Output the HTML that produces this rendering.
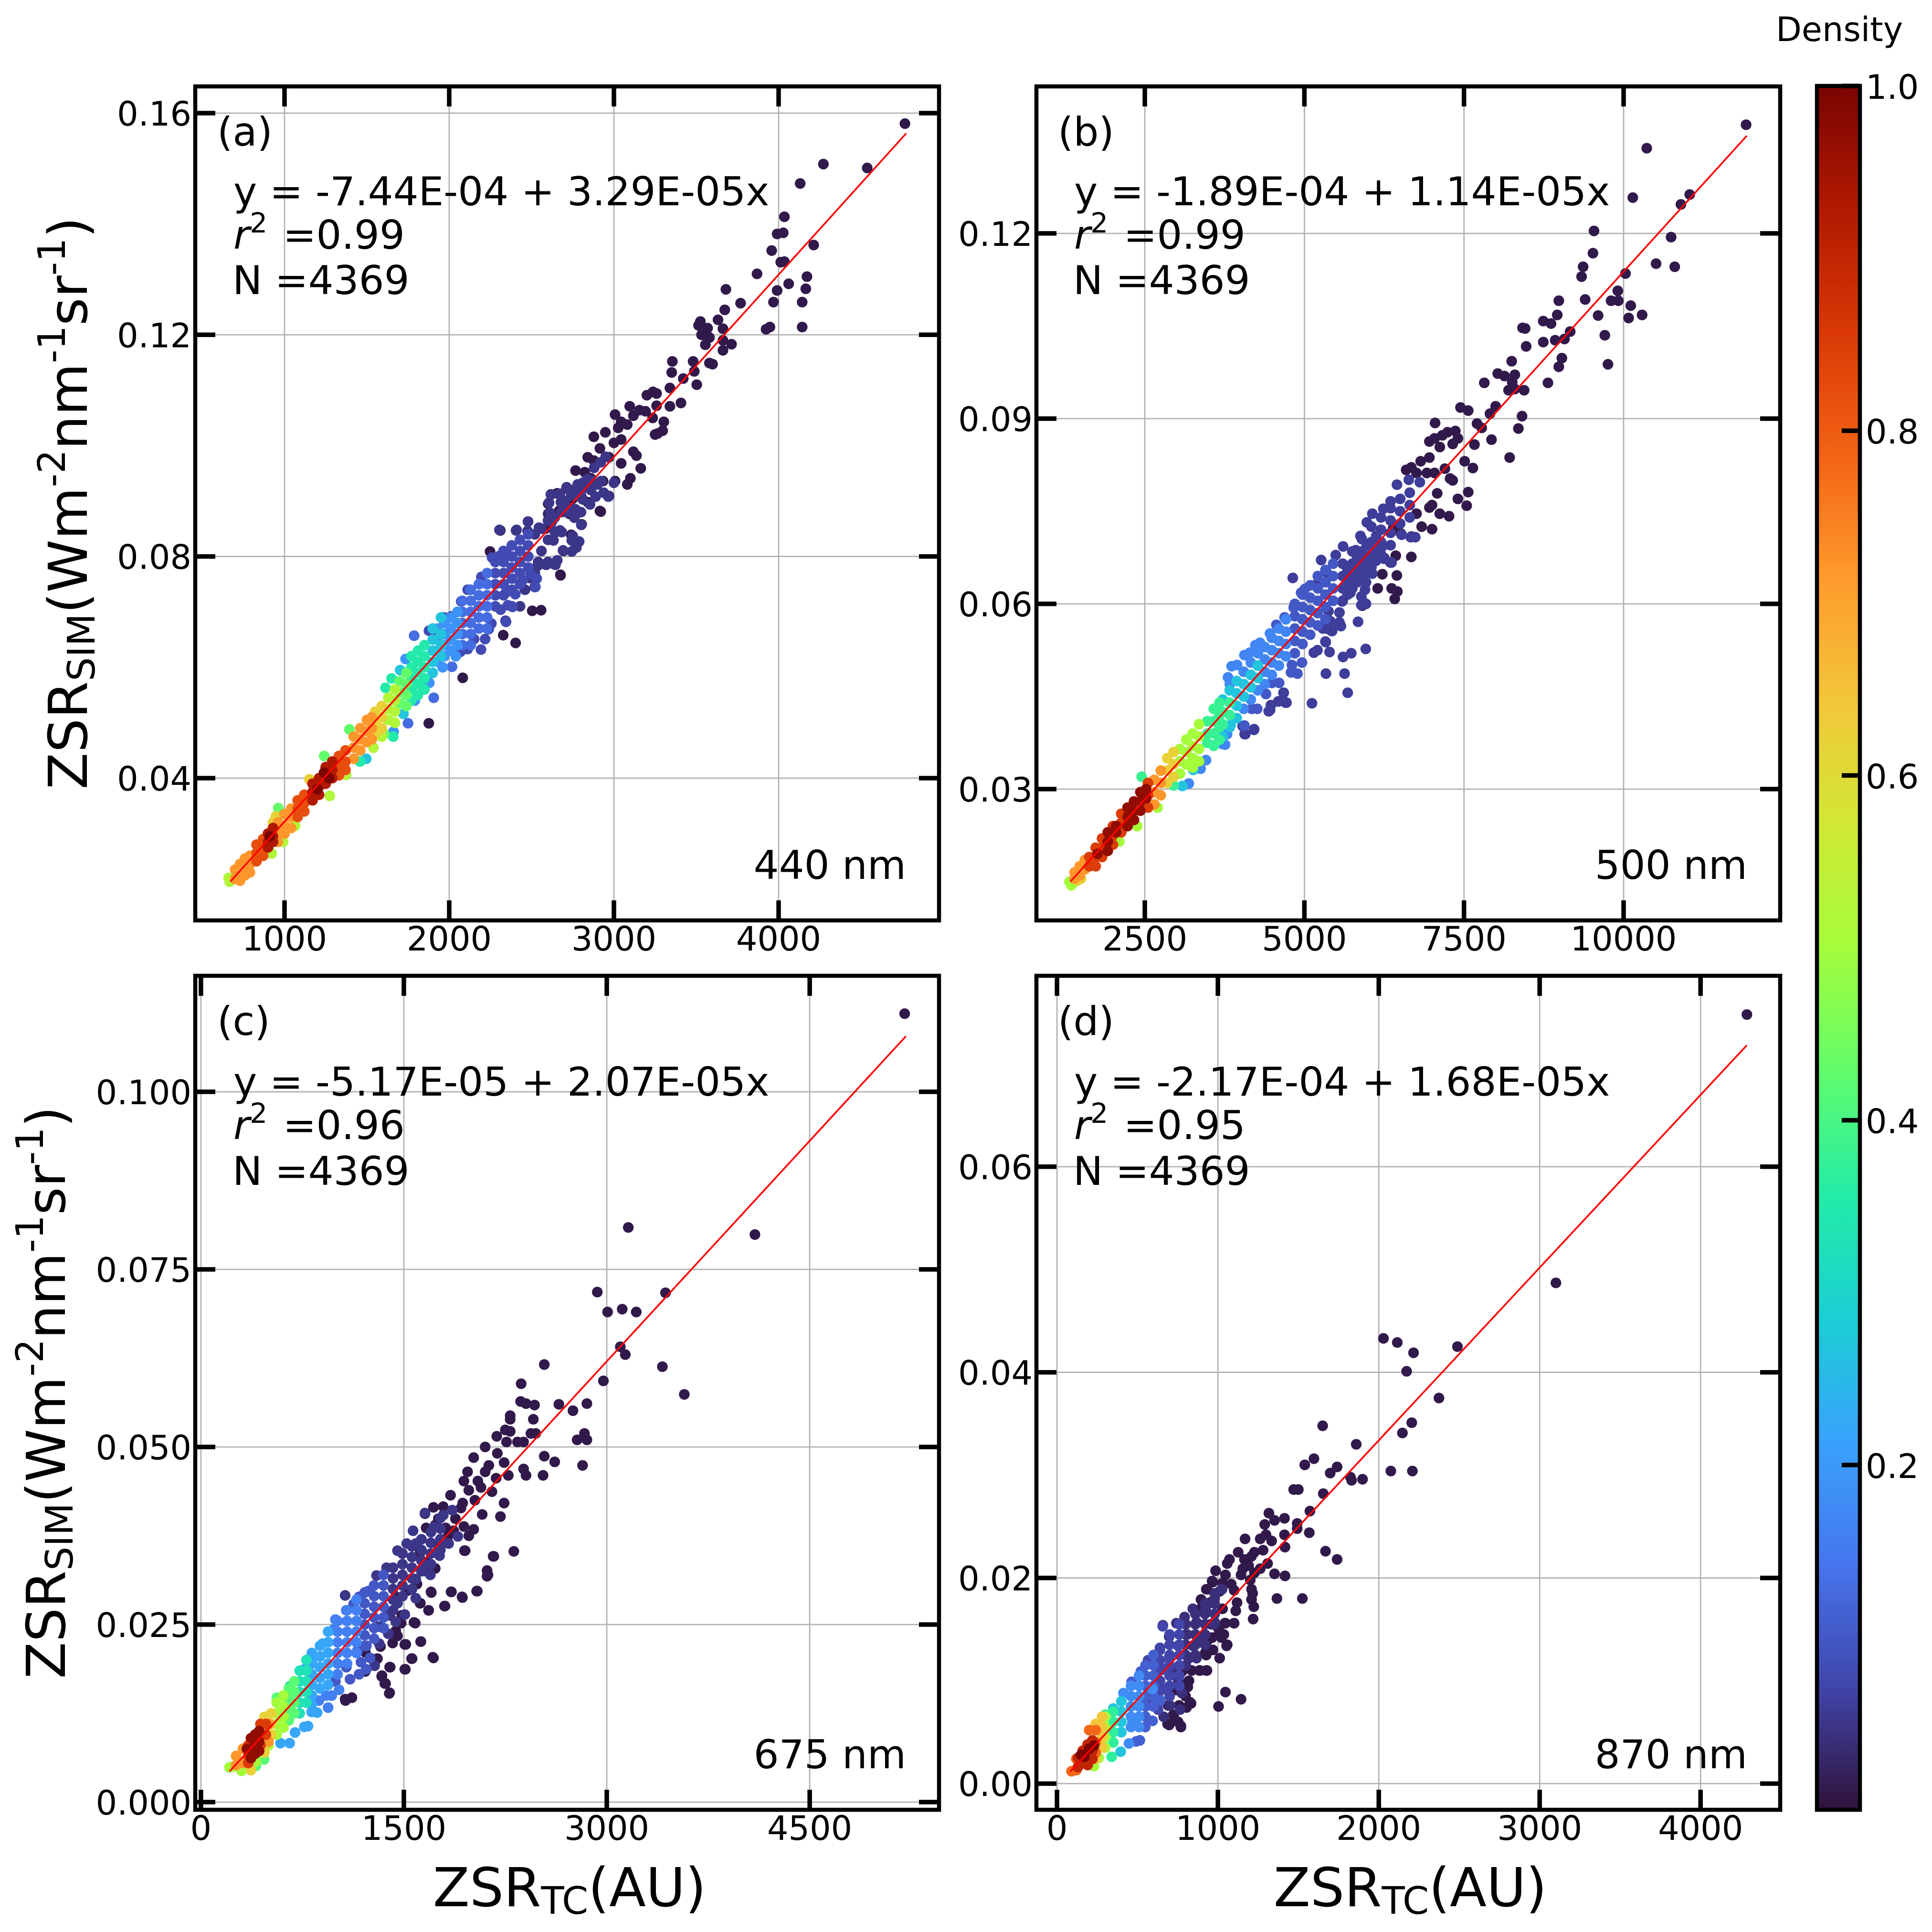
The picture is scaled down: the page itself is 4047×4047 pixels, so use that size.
<!DOCTYPE html>
<html lang="en">
<head>
<meta charset="utf-8">
<title>ZSR simulated versus ZSR TC at four wavelengths</title>
<style>
html,body{margin:0;padding:0;background:#fff}
svg{display:block}
text{font-family:"DejaVu Sans","Liberation Sans",sans-serif;fill:#000}
</style>
</head>
<body>
<svg xmlns="http://www.w3.org/2000/svg" width="4047" height="4047" viewBox="0 0 4047 4047">
<defs><linearGradient id="turbo-gradient" x1="0" y1="1" x2="0" y2="0"></linearGradient></defs>
<rect x="0" y="0" width="4047" height="4047" fill="#ffffff"/>

<g id="panel-a">
<g id="a-under"></g>
<text x="455" y="305" font-size="83.3">(a)</text>
<text x="489" y="430" font-size="83.3">y = -7.44E-04 + 3.29E-05x</text>
<text x="489" y="521" font-size="83.3"><tspan font-style="italic">r</tspan><tspan dy="-34" font-size="58">2</tspan><tspan dy="34" dx="6"> =0.99</tspan></text>
<text x="487" y="616" font-size="83.3">N =4369</text>
<text x="1898" y="1841" font-size="83.3" text-anchor="end">440 nm</text>
<text transform="translate(182,1054) rotate(-90)" font-size="112.5" text-anchor="middle">ZSR<tspan dy="16" font-size="79">SIM</tspan><tspan dy="-16">(Wm</tspan><tspan dy="-46" font-size="79">-2</tspan><tspan dy="46">nm</tspan><tspan dy="-46" font-size="79">-1</tspan><tspan dy="46">sr</tspan><tspan dy="-46" font-size="79">-1</tspan><tspan dy="46">)</tspan></text>
<g id="a-over"></g>
</g>

<g id="panel-b">
<g id="b-under"></g>
<text x="2216" y="305" font-size="83.3">(b)</text>
<text x="2250" y="430" font-size="83.3">y = -1.89E-04 + 1.14E-05x</text>
<text x="2250" y="521" font-size="83.3"><tspan font-style="italic">r</tspan><tspan dy="-34" font-size="58">2</tspan><tspan dy="34" dx="6"> =0.99</tspan></text>
<text x="2248" y="616" font-size="83.3">N =4369</text>
<text x="3660" y="1841" font-size="83.3" text-anchor="end">500 nm</text>
<g id="b-over"></g>
</g>

<g id="panel-c">
<g id="c-under"></g>
<text x="455" y="2168" font-size="83.3">(c)</text>
<text x="489" y="2295" font-size="83.3">y = -5.17E-05 + 2.07E-05x</text>
<text x="489" y="2386" font-size="83.3"><tspan font-style="italic">r</tspan><tspan dy="-34" font-size="58">2</tspan><tspan dy="34" dx="6"> =0.96</tspan></text>
<text x="487" y="2482" font-size="83.3">N =4369</text>
<text x="1898" y="3704" font-size="83.3" text-anchor="end">675 nm</text>
<text transform="translate(136,2917) rotate(-90)" font-size="112.5" text-anchor="middle">ZSR<tspan dy="16" font-size="79">SIM</tspan><tspan dy="-16">(Wm</tspan><tspan dy="-46" font-size="79">-2</tspan><tspan dy="46">nm</tspan><tspan dy="-46" font-size="79">-1</tspan><tspan dy="46">sr</tspan><tspan dy="-46" font-size="79">-1</tspan><tspan dy="46">)</tspan></text>
<text x="1193" y="3993" font-size="112.5" text-anchor="middle">ZSR<tspan dy="16" font-size="79">TC</tspan><tspan dy="-16">(AU)</tspan></text>
<g id="c-over"></g>
</g>

<g id="panel-d">
<g id="d-under"></g>
<text x="2216" y="2168" font-size="83.3">(d)</text>
<text x="2250" y="2295" font-size="83.3">y = -2.17E-04 + 1.68E-05x</text>
<text x="2250" y="2386" font-size="83.3"><tspan font-style="italic">r</tspan><tspan dy="-34" font-size="58">2</tspan><tspan dy="34" dx="6"> =0.95</tspan></text>
<text x="2248" y="2482" font-size="83.3">N =4369</text>
<text x="3660" y="3704" font-size="83.3" text-anchor="end">870 nm</text>
<text x="2954" y="3993" font-size="112.5" text-anchor="middle">ZSR<tspan dy="16" font-size="79">TC</tspan><tspan dy="-16">(AU)</tspan></text>
<g id="d-over"></g>
</g>

<g id="colorbar">
<rect x="3806" y="180" width="90" height="3611" fill="url(#turbo-gradient)"/>
<g id="colorbar-ticks"></g>
<rect x="3806" y="180" width="90" height="3611" fill="none" stroke="#000" stroke-width="8.5"/>
<text x="3720" y="86" font-size="70">Density</text>
</g>
</svg>

<script>
// All y values below are in units of 1e-3 W m-2 nm-1 sr-1.
const turboStops = ['#30123b','#4145ab','#4675ed','#39a2fc','#1bcfd4','#24eca6','#61fc6c','#a4fc3b','#d1e834','#f3c63a','#fe9b2d','#f36315','#d93806','#b11901','#7a0402'];
const colorbarTicks = [0.2,0.4,0.6,0.8,1.0];
const colorbarLabels = ['0.2','0.4','0.6','0.8','1.0'];

/* ---------- panel (a) 440 nm ---------- */
const aXTicks = [1000,2000,3000,4000];
const aXLabels = ['1000','2000','3000','4000'];
const aYTicks = [40,80,120,160];
const aYLabels = ['0.04','0.08','0.12','0.16'];
const aFit = [-0.744,0.0329,671,4775];
const aLevels = [0.01,0.05,0.08,0.13,0.19,0.27,0.35,0.43,0.52,0.62,0.72,0.82,0.93,1];
const aX0 = [4767,4272,4538,4131,4035,4028,3991,3958,4035,4013,4213,3869,4172,4061,3991,4165,3680,3769,3969,4143,3673,4143,3947,3924,3525,3514,3569,3632,3662,3532,3580,3555,3662,3714,3662,3355,3481,3580,3599,3351,3488,3421,3503,3340,3200,3237,3259,3340,3407,3259,3155,3096,3192,3007,3118,3044,3081,3026,3303,3266,3296,2948,2878,3044,3000,2915,3118,3137,2841,2878,2970,3044,3163,3100,3081,2767,2823,2860,2934,3007,2970,2915,2786,2712,2656,2619,2749,2841,2601,2667,2601,2730,2804,2582,2656,2741,2767,2693,2582,2638,2675,3250,3235,1876,2310,2248,2920,2676,2504,2558,2328,2403,2082];
const aY0 = [158.1,150.8,150.1,147.3,141.3,138.4,138.2,135.2,133.2,133.1,136.2,131,130.5,129.2,128,128.3,128.2,125.7,125.9,125.9,124.5,121.4,121.4,121,122.4,121.7,121.2,122.7,121.1,120,119.5,118.2,117.2,118.3,119,115.2,115.2,114.9,114.7,113.2,113.4,112.1,111,110.4,109.1,109.7,109.4,107.1,107.7,107.2,106.4,107.1,106.2,105.6,105.4,104.3,103.8,103.2,104.3,102.2,102.7,102.4,101.6,101.1,100.5,99.5,98.9,98.2,97.9,97.3,97.9,96.8,95.9,94.1,93,95.5,95.2,94.1,93.6,93.6,90.9,88.2,92.5,92.3,91.4,91.2,90.4,89.8,89.5,88.2,87.7,87.7,85.8,85,84.5,83.9,82.3,81,78.6,78.6,76.7,102,105,49.9,84.7,80.9,88.1,76.6,70.2,70.3,65.8,64.4,58.1];
const aX1 = [2342,2519,2490,2305,2409,2479,2520,2560,2600,2640,2680,2560,2600,2640,2700,2740,2780,2800,2840,2880,2920,2760,2800,2860,2900,2950,2540,2600,2460,2520,2430,2380,2406,2478,2476,2545,2606,2617,2672,2713,2755,2811,2866,2922,3000,2744,2794,2711,2611,2622,2767,2855,2889,2811,2966,2938,2678,2700,2811,2900,2802,2672,2683,2633,2750,2744,2789,2772,2691,2744,2656,2589,2645,2536];
const aY1 = [68.4,74.5,76.1,84.8,84.8,86.3,84,85,86.5,87,88,81,83,84.5,90,91,93,91,94,96,97,87,88,92,93,98,79,79,74,77,71,71,84.7,86.3,84.6,85.2,89.7,91.2,91.3,92.5,92,93.3,93.6,93.6,93.3,88.7,88,88,87.9,86.2,88.5,89.4,90.8,90.3,90.8,91.5,89.8,88.7,92.3,93,85.7,84.7,84.4,82.9,83.7,82.9,82.7,81.6,81.1,80.9,79.3,78.5,78.5,78.3];
const aX2 = [2280,2280,2280,2280,2280,2330,2330,2330,2330,2330,2380,2380,2380,2380,2380,2430,2430,2430,2430,2430,2480,2480,2480,2480,2495,2531,2523,2401,2345,2445,2356,2384,2312,2345,2218,2193,2256,2240,2151,2112,2068,2260,2306,2351,2195,2112,2073,1968,2012,1877,1918];
const aY2 = [79,77,75,73,71,81,79,77,75,73,82,80,78,76,74,83,81,79,77,75,84,82,80,78,76.8,76,74.5,73.2,73.5,75.7,71.2,70.9,70.4,68.2,65.1,63.2,67.9,66.9,65.1,63.3,62.8,79.8,80.1,80.4,76.3,74,71.9,69,69.2,66.6,66.6];
const aX3 = [2080,2080,2080,2080,2080,2130,2130,2130,2130,2130,2130,2180,2180,2180,2180,2180,2230,2230,2230,2230,2230,2230,1787,1750,1906,2017];
const aY3 = [72,70,68,66,64,74,72,70,68,66,64,75,73,71,69,67,77,75,73,71,69,67,65.7,49.9,54.5,60.1];
const aX4 = [1930,1930,1930,1930,1970,1970,1970,1970,2010,2010,2010,2010,2050,2050,2050,2050,1662,1879,1791,1735,1840,1960,2040];
const aY4 = [67,65,63,61,68,66,64,62,69,67,65,63,70,68,66,64,48.4,57.2,54,61.5,56.5,60,62];
const aX5 = [1496,1722,1702,1900,1900,1900,1900,1900,1950,1950,1950,1950];
const aY5 = [43.5,51.6,59.5,67,65,63,61,59,69,66,64,62];
const aX6 = [1770,1770,1770,1770,1770,1810,1810,1810,1810,1810,1850,1850,1850,1850,1850,1458,1613,1650,1660];
const aY6 = [62,60,58,56,54,63,61,59,57,55,64,62,60,58,56,43,56.3,58,47.5];
const aX7 = [1700,1700,1700,1740,1740,1740,1740,1241,962,1606,1394];
const aY7 = [57.5,55.5,53.5,59,57,55,53,44,34.6,48,48.8];
const aX8 = [1630,1630,1630,1670,1670,1670,1670,1590,1540,1275,922,1064,991,667,661,1374];
const aY8 = [54.5,52.5,50.5,56,54,52,50,47.5,45.5,36.8,26.4,31.4,28.5,21.3,22,40.6];
const aX9 = [1550,1550,1550,1590,1590,1590,1151,1354,948,930,1588,739,701];
const aY9 = [52,50,48,53,51,49,39.8,41.1,33.1,32,48.8,22,21.8];
const aX10 = [1420,1420,1420,1460,1460,1460,1500,1500,1500,1530,1530,1530,960,960,960,1000,1000,1000,1040,1040,1040,700,700,730,730,730,760,760,760,790,790,790];
const aY10 = [47.5,45.5,43.5,49,47,45,50.5,48.5,46.5,51,49,47,32,30,28.5,33.5,31.5,30,34.5,33,31,23.5,21.8,24.5,23,21.5,25.5,24,22.5,26,24.5,23];
const aX11 = [1330,1330,1330,1370,1370,1370,1080,1080,1080,1120,1120,1120,830,830,830,870,870,870];
const aY11 = [44,42,40.5,45,43,41.5,36,34.5,33,37,35.5,34,28,26.5,25,29,27.5,26];
const aX12 = [1170,1170,1170,1210,1210,1210,1250,1250,1250,1290,1290,1290,900,900,900,930,930,930];
const aY12 = [39,37.5,36,40,38.5,37,42,40.5,39,43,41.5,40,30,28.5,27.5,31,29.5,28.5];
const aX13 = [1240,1200,1270,910];
const aY13 = [41,38,40,29.5];

/* ---------- panel (b) 500 nm ---------- */
const bXTicks = [2500,5000,7500,10000];
const bXLabels = ['2500','5000','7500','10000'];
const bYTicks = [30,60,90,120];
const bYLabels = ['0.03','0.06','0.09','0.12'];
const bFit = [-0.189,0.0114,1333,11930];
const bLevels = [0.01,0.06,0.1,0.17,0.27,0.38,0.5,0.62,0.72,0.85,0.97];
const bX0 = [11919,10363,10144,11036,10898,9536,10744,9520,9366,10509,10801,9342,10030,9909,9398,8985,9804,9917,10112,8961,8742,8863,9601,10079,10290,8417,8458,9163,9074,8928,8742,8474,9706,9033,9755,8985,8247,8028,8134,8296,7818,8815,8255,8198,8296,8442,7445,7566,7996,7907,8409,7704,7777,8352,7047,7931,7242,7364,7404,7323,7161,7121,6958,7039,7664,7510,7639,8215,6958,6821,6675,6594,6756,6918,7039,7201,7282,7323,7080,6999,6958,7120,7266,7404,7566,7542,6837,6999,6756,6675,6512,6391,6675,6431,6253,6350,6448,6221,6148,6367,6456,6415,5945,5905];
const bY0 = [137.6,133.8,125.8,126.3,124.7,120.4,119.4,116.8,114.6,115.1,114.6,113,113.5,110.7,109.3,109.1,109.1,109.1,108.3,106.8,105.8,105.4,106.7,106.3,106.8,104.7,104.6,104.1,102.9,102.7,102.4,101.7,103.5,99.8,98.8,98.4,99.3,97.3,96.9,97.1,95.8,95.8,95.9,94.6,94.8,94.6,91.8,91.3,92,90.8,90.4,89.2,88.5,88.4,89.3,86.6,87.8,88,86.8,85.9,87.3,85.4,86.3,86.8,85.8,83.1,82,83.7,83.7,83.1,82.1,81.7,81.2,81.2,81.2,81.9,80.3,80,77.9,76,75.6,74.6,74.2,77,78.1,75.9,72.5,72.1,74.6,70.9,71.4,72.3,67.6,67.8,67.4,66.7,64.6,64.8,62.5,62.5,62,60.8,60.1,59.7];
const bX1 = [5600,5600,5600,5600,5675,5675,5675,5750,5750,5750,5750,5825,5825,5825,5900,5900,5900,5900,5975,5975,5975,6050,6050,6050,6050,6125,6125,6125,6200,6200,6200,6200,6350,6350,6350,6350,6500,6500,6500,6650,6650,6650,4818,5840,5540,5378,5434,5329,5394,5961,5734,5605,5337,5629,5118,5678,4672,4705,4591,4462,4210,4064,4032,5177,5348,5262,5491,5606,5806,5878,5978,6064,6236,6350,6450,6636,6808,4441,4475,4598,4719,4676,4075,4212,5148,5205,5334,5428,5291,5572,5549,5405,5549,5377,5592,5720,5892,5964,5892,5949,5964,5935,6064,6006,6006,6221,6250,6365,6522,6665,6737];
const bY1 = [66.5,64.5,62.5,60.5,65.5,63.5,61.5,68.5,66.5,64.5,62.5,67.5,65.5,63.5,70.5,68.5,66.5,64.5,69.5,67.5,65.5,72.5,70,68,66,71,69,67,74,72,70,68,75.5,73.5,71.5,69.5,77,75,73,78,76,74,64.2,57.1,56.7,55.9,55.6,53.9,52.2,52.7,52,51.4,48.7,48.7,43.9,45.6,45.6,44,44.2,42.8,39.6,38.9,40.2,63.1,65.1,67.1,67.9,69.3,68.7,71,73.2,74.6,75.4,76.6,79.3,80.1,79.7,42.6,43.6,44.2,44,45.6,38.9,39.7,52.1,52.5,53.8,55.6,56,56.4,57,57.2,58.6,58.8,60.4,61.8,59.8,60,61.2,62.3,63.5,64.5,64.9,66.3,66.9,69.3,67.3,66.7,71.2,70.8,70.8];
const bX2 = [4850,4850,4850,4850,4850,4970,4970,4970,4970,4970,5090,5090,5090,5090,5090,5210,5210,5210,5210,5210,5330,5330,5330,5330,5330,5450,5450,5450,5450,4561,4690,4833,4948,5005,4060,4261,4175,4398,4490,4604,4790,4890,4962,4805];
const bY2 = [60,58,56,54,52,61.5,59.5,57.5,55.5,53.5,63,61,59,57,55,64.5,62.5,60.5,58.5,56.5,65.5,63.5,61.5,59.5,57.5,66.5,64.5,62.5,60.5,56.6,57.8,59.4,61.8,62.4,40.3,43,43,45.4,47.2,47.2,48.9,48.7,50.5,50.1];
const bX3 = [4050,4050,4050,4050,4160,4160,4160,4160,4270,4270,4270,4270,4380,4380,4380,4380,4490,4490,4490,4490,4600,4600,4600,4600,4710,4710,4710,4710,3757,3189,3860,3946,3803,3832,4060,4146,4232,4304,4461,3374,3459,3717,3789];
const bY3 = [49,47,45,43,50.5,48.5,46.5,44.5,52,50,48,46,53,51,49,47,54.5,52.5,50.5,48.5,56,54,52,50,57.5,55.5,53.5,51.5,37.2,30.9,49.9,50.1,48.1,47,51.7,52.1,53.3,53.7,55.2,33.3,34.7,37.3,38.9];
const bX4 = [3720,3720,3720,3720,3830,3830,3830,3830,3940,3940,3940,3940,3090,4050,4050,4160,4160,4270,4270,3259,3588,3846];
const bY4 = [44.5,42.5,40.5,38.5,46,44,42,40,47.5,45.5,43.5,41.5,30.5,47,45,48.5,46.5,50,48,33.1,37.1,40.4];
const bX5 = [3480,3480,3480,3580,3580,3580,3580,3670,3670,3670,3670,2450,2150,2950,3720,3720,3830,3830];
const bY5 = [41,39,37.5,43,41,39,37,44,42,40,38,32,24.5,30.6,42.5,40.5,44,42];
const bX6 = [3050,3050,3050,3150,3150,3150,3250,3250,3250,3250,3350,3350,3350,3350,1320,1350,1380,2380,2700,2100];
const bY6 = [36.5,34.5,32.5,38,36,34,39,37,35,33.5,40.5,38.5,36.5,34.5,15,14.4,14.8,24,27,21.5];
const bX7 = [2850,2850,2850,2950,2950,2950,1450,1500];
const bY7 = [35,33,31,36,34,32,15.2,15.5];
const bX8 = [2650,2650,2650,2750,2750,2750,1400,1400,1480,1480,1560,1560];
const bY8 = [31.5,29.5,27.5,33,31,29,16.5,15.5,17.5,16,18.5,17];
const bX9 = [1630,1630,1730,1730,1730,1830,1830,1830,2000,2000,2000,2130,2130,2130,2550,2550,2550];
const bY9 = [19,17.5,20.5,19,17.5,22,20.5,19,24,22.5,21,26,24.5,23,31,29,27];
const bX10 = [1920,1920,1920,2050,2050,2230,2230,2230,2330,2330,2330,2430,2430,2430,2520,2520,1760];
const bY10 = [23,21.5,20,24,23,27,25.5,24,28,26.5,25,29.5,28,26.5,30,28.5,19.5];

/* ---------- panel (c) 675 nm ---------- */
const cXTicks = [0,1500,3000,4500];
const cXLabels = ['0','1500','3000','4500'];
const cYTicks = [0,25,50,75,100];
const cYLabels = ['0.000','0.025','0.050','0.075','0.100'];
const cFit = [-0.0517,0.0207,211,5211];
const cLevels = [0.01,0.05,0.1,0.16,0.22,0.33,0.42,0.5,0.62,0.72,0.85,0.97];
const cX0 = [5202,3159,4095,2930,3434,3006,3114,3218,3100,3137,3411,3573,2975,2538,2367,2363,2403,2466,2646,2853,2750,2286,2286,2457,2250,2286,2187,2439,2475,2835,2781,2853,2340,2385,2259,2101,2191,2016,2538,2615,2821,2385,2403,2529,2241,2128,2101,1971,1944,2047,2182,2272,2151,2070,1980,1845,2025,2241,2079,2214,1935,1922,1791,1719,1656,1755,1881,1809,1944,2016,1868,1980,1732,1665,2313,2160,1948,2115,2115,2038,1849,1930,1701,1800,1683,1620,1575,1624,1507,1714,1557,1507,1395,1336,1359,1395,1116,1066,1215,1305,1440,1485,1395,1440,1530,1597,1665,1732,1620,1665,1755,1822,1260,1327,1215,1417,1399,1338,1365,1392,1511,1561,1719,1626,1514,1453,1584,1480,1703,1852,1933,2043,2122,2165,1953,1804,1683,1622,1115,1068];
const cY0 = [111,80.9,79.9,71.8,71.7,69,69.4,69,64.1,63,61.3,57.4,59.3,61.6,58.9,56.4,56.1,55.9,56,56.1,55.1,54.4,53.9,53.9,52.4,52.2,51.5,51.9,51.9,51.9,51,51,50.7,50.7,50.7,50,49.1,48.5,48.7,47.9,47.4,46.9,46,46,47.8,47.4,46.5,46.5,45.2,45.2,45.6,46,43.7,44.3,43.9,43.2,42.5,42.1,40.5,40.2,42.1,41.4,41.6,41.5,40.6,39.9,39.9,38.6,38.8,38.4,38.2,37.5,39,38.6,35.3,34.6,35.4,32.6,31.8,29.7,29.6,28.9,29.6,27.6,27,28,25.3,22.6,22.2,20.4,20.2,18.7,19,17.7,16.7,15.4,14.7,14.5,18.4,20.2,24.1,26.3,26.3,28.9,29.8,30.7,32.5,32.9,35.1,33.8,36,37.3,20.2,21.9,21.1,22.4,19,17.8,16.7,15.3,18.7,20.2,20.3,22.6,22.2,23.4,25.2,25.2,29.5,29.6,28.8,29.7,32,34.6,35.4,27.6,27,28,14.7,14.3];
const cX1 = [1420,1420,1420,1420,1420,1490,1490,1490,1490,1490,1560,1560,1560,1560,1560,1630,1630,1630,1630,1700,1700,1700,1700,1770,1770,1770,1770,1066,1372,1453,1521,1568,1656,1298,1284,1318,1385,1440,1507,1588,1696,1764,1831,1899,1656,1588,1453,1385,1318,1588,1723,1791,1858];
const cY1 = [33,31.5,30,28.5,27,35,33.5,32,30.5,29,36,34.5,33,31.5,30,37,35.5,34,32.5,38,36.5,35,33.5,40,38.5,37,35.5,29.1,33,35.4,36.4,38.2,40.7,31.9,19.2,22.3,23.7,25.4,26.4,28.7,32,34.7,36.4,37.4,33.4,31.4,28,26.4,24.7,36.4,38.7,40.4,41.1];
const cX2 = [1210,1210,1210,1210,1210,1210,1280,1280,1280,1280,1280,1280,1350,1350,1350,1350,1350,1350,1075,1129,1169,1237,1102,1169,1223,1250,1183,1223,1156,1075,994];
const cY2 = [29.5,28,26.5,25,23.5,22,30.5,29,27.5,26,24.5,23,32,30.5,29,27.5,26,24.5,27,27.9,28.9,29.7,17.3,18,18.7,20.3,19.7,22,21.3,19,17];
const cX3 = [1010,1010,1010,1010,1010,1010,1080,1080,1080,1080,1080,1080,1150,1150,1150,1150,1150,1150,980,994,967,1021,926,940,872];
const cY3 = [25.5,24,22.5,21,19.5,18,27,25.5,24,22.5,21,19.5,28.5,27,25.5,24,22.5,21,24.3,25.7,15,15.8,15,13.3,14.3];
const cX4 = [820,820,820,820,820,820,880,880,880,880,880,940,940,940,940,940,940,764,818,899,859,818,791,764,656,696,588];
const cY4 = [21,19.5,18,16.5,15,13.8,22,20.5,19,17.5,16,24,22.5,21,19.5,18,16.5,18.7,20,22.3,12.6,12.7,10.7,10.6,8.3,9.8,8.3];
const cX5 = [730,730,730,730,730,780,780,780,780,780,656];
const cY5 = [18.5,17,15.5,14,12.5,20,18.5,17,15.5,14,16.3];
const cX6 = [650,650,650,650,690,690,690,690,561,467,406];
const cY6 = [16,14.5,13,11.5,17,15.5,14,12.5,14.7,6,5.1];
const cX7 = [560,560,560,560,610,610,610,610,211,235,300,405,450,500];
const cY7 = [14,12.5,11,9.5,15,13.5,12,10.5,4.9,5,4.4,5.7,7,8];
const cX8 = [520,520,520,470,470,470,370];
const cY8 = [12.5,11,9.5,12,8,7,4.5];
const cX9 = [500,500,260,260,310,310];
const cY9 = [11,8.5,6.5,5.2,7.5,5.5];
const cX10 = [440,440,440,480,480,350,350,350];
const cY10 = [11,9.5,8,11,9.5,8,6.5,5.5];
const cX11 = [340,370,370,370,400,400,400,430,430,430];
const cY11 = [7.5,9,7.5,6.2,9.5,8,6.8,10,8.5,7.2];

/* ---------- panel (d) 870 nm ---------- */
const dXTicks = [0,1000,2000,3000,4000];
const dXLabels = ['0','1000','2000','3000','4000'];
const dYTicks = [0,20,40,60];
const dYLabels = ['0.00','0.02','0.04','0.06'];
const dFit = [-0.217,0.0168,83,4288];
const dLevels = [0.01,0.04,0.07,0.11,0.18,0.27,0.37,0.5,0.64,0.78,0.9,1];
const dX0 = [4288,3101,2029,2115,2216,2489,2173,2374,2205,1651,2147,1860,1597,1540,1741,1698,2075,2209,1824,1831,1899,1471,1500,1655,1572,1317,1352,1414,1291,1493,1493,1299,1568,1414,1169,1263,1334,1417,1126,1281,1227,1669,1741,1072,1058,1165,1209,1191,1309,1263,1155,1227,1352,1417,986,1047,1144,1201,1083,1029,964,928,1011,1101,1209,1216,1367,1525,1209,1223,1119,1111,1219,1101,1047,993,896,950,1029,892,1058,1011,964,1022,921,885,928,1047,1144,1004,827,799,813,741,691,727,770,687,723,759,820,777,1100,1043,1009,1054,1037,969,958,932,927,890,935,833,838,816,805,770,753,725,697,986,969,935,895];
const dY0 = [74.8,48.7,43.3,42.9,41.9,42.5,40.1,37.5,35.1,34.8,34.1,33,31.6,31,30.8,30.2,30.4,30.4,29.8,29.5,29.6,28.6,28.6,28.2,26.5,26.3,25.6,25.8,25.2,25.3,24.8,24.2,24.4,24.2,23.8,23.8,23.6,23,22.5,22.7,22.5,22.6,21.8,21.8,21.4,21.8,22.1,21.2,21.4,20.9,20.9,20.5,20.4,20.2,20.7,20.3,20.3,19.8,19.4,19.5,19.7,18.9,18.7,18.8,18.9,18.5,18,18,17.9,17.2,17.6,16.8,16,15.6,15.6,15.3,17.9,17.6,17,17,13.5,12.2,14.2,14.2,12.7,11,11,8.9,8.2,7.5,7.9,8.5,9.4,9.1,7.6,6.1,5.6,5.8,6.7,7.6,10,10.9,15.6,15.6,14.8,13.4,14.5,13,15.5,11,12.5,11,13.9,7.8,11,9.9,7.4,5.5,6,6.6,5.7,20.7,19.6,18.9,17.9];
const dX1 = [800,800,800,800,800,860,860,860,860,860,920,920,920,920,920,980,980,980,980,658,1026,980,924,867,810,980,901,867,844,821,776,765,753,731,702,663,844,793,742,697];
const dY1 = [15.5,14.5,13.5,12.5,11.5,16.5,15.5,14.5,13.5,12.5,17.5,16.5,15.5,14.5,13.5,18.5,17.5,16.5,15.5,15.4,18.9,18,16.9,15.7,14.5,15.7,13.9,12.2,13.4,12.2,8.8,7.2,10.1,11.1,7.6,6.5,17,16.2,15.6,14.3];
const dX2 = [640,640,640,640,640,640,700,700,700,700,700,700,700,760,760,760,760,760,760,760,640,628,663,697,753,663,594,566,657];
const dY2 = [13,12,11,10,9,8,14.5,13.5,12.5,11.5,10.5,9.5,8.5,15.5,14.5,13.5,12.5,11.5,10.5,9.5,13.2,7.2,9.2,12.2,13.4,11.1,8.1,12,15.3];
const dX3 = [550,550,550,550,550,550,600,600,600,600,600,600,594,549,526,521,464,515,492,640];
const dY3 = [11.5,10.5,9.5,8.5,7.5,6.5,12.5,11.5,10.5,9.5,8.5,7.5,6.1,5.5,7.6,10.9,9.9,4.2,4.1,8.1];
const dX4 = [460,460,460,460,460,510,510,510,510,510,510,413,447,469,594];
const dY4 = [9.5,8.5,7.5,6.5,5.5,10.5,9.5,8.5,7.5,6.5,5.5,8.8,3.9,6,9.2];
const dX5 = [400,400,400,400,396,350];
const dY5 = [8,7,6,5,3.1,7.3];
const dX6 = [350,350,350,350,299,340];
const dY6 = [7,6,5,4,6.7,2.6];
const dX7 = [300,300,300,300,260,230];
const dY7 = [6.5,5.5,4.5,3.5,2.5,1.7];
const dX8 = [280,280,280,280,240,240];
const dY8 = [6.5,5.5,4.5,3.5,5.8,2.4];
const dX9 = [90,120,120,200,240,240,240];
const dY9 = [1.2,1.3,2.4,5.2,5.2,4,3];
const dX10 = [130,130,160,160,190,190,190,220,220,220];
const dY10 = [2.5,1.6,3.2,2.2,3.8,2.8,1.8,4.2,3.2,2.4];
const dX11 = [150,170,200,230];
const dY11 = [2.8,2.6,3.4,3.7];

const NS = 'http://www.w3.org/2000/svg';

function make(tag, parent) {
  const el = document.createElementNS(NS, tag);
  parent.appendChild(el);
  return el;
}
function setAll(el, props) {
  for (const k in props) el.setAttribute(k, props[k]);
}
function hexToRgb(h) {
  return [parseInt(h.slice(1,3),16), parseInt(h.slice(3,5),16), parseInt(h.slice(5,7),16)];
}
function turbo(t) {
  const p = Math.max(0, Math.min(1, t)) * (turboStops.length - 1);
  const i = Math.min(Math.floor(p), turboStops.length - 2);
  const f = p - i;
  const a = hexToRgb(turboStops[i]);
  const b = hexToRgb(turboStops[i + 1]);
  return 'rgb(' + a.map(function (v, k) { return Math.round(v + (b[k] - v) * f); }).join(',') + ')';
}

function drawPanel(p) {
  const under = document.getElementById(p.id + '-under');
  const over = document.getElementById(p.id + '-over');
  const sx = function (v) { return p.left + (v - p.xDom[0]) / (p.xDom[1] - p.xDom[0]) * (p.right - p.left); };
  const sy = function (v) { return p.bottom - (v - p.yDom[0]) / (p.yDom[1] - p.yDom[0]) * (p.bottom - p.top); };

  p.xTicks.forEach(function (v) {
    const g = make('line', under);
    setAll(g, { x1: sx(v), x2: sx(v), y1: p.top, y2: p.bottom, stroke: '#b0b0b0', 'stroke-width': 2.7 });
    
    
  });
  p.yTicks.forEach(function (v) {
    const g = make('line', under);
    setAll(g, { x1: p.left, x2: p.right, y1: sy(v), y2: sy(v), stroke: '#b0b0b0', 'stroke-width': 2.7 });
    
    
  });

  p.levels.forEach(function (level, k) {
    const xs = p.xs[k];
    const ys = p.ys[k];
    const color = turbo(level);
    xs.forEach(function (x, i) {
      if (ys[i] === undefined) return;
      const c = make('circle', under);
      setAll(c, { cx: sx(x), cy: sy(ys[i]), r: 11.2, fill: color });
      
      
    });
  });

  const fit = make('line', under);
  setAll(fit, {
    x1: sx(p.fit[2]), y1: sy(p.fit[0] + p.fit[1] * p.fit[2]),
    x2: sx(p.fit[3]), y2: sy(p.fit[0] + p.fit[1] * p.fit[3]),
    stroke: '#ff0000', 'stroke-width': 3.6
  });
  
  

  p.xTicks.forEach(function (v, i) {
    [[p.bottom, p.bottom - 42], [p.top, p.top + 42]].forEach(function (seg) {
      const t = make('line', over);
      setAll(t, { x1: sx(v), x2: sx(v), y1: seg[0], y2: seg[1], stroke: '#000', 'stroke-width': 9.5 });
      
      
    });
    const lab = make('text', over);
    setAll(lab, { x: sx(v), y: p.bottom + 63, 'text-anchor': 'middle', 'font-size': 70 });
    lab.textContent = p.xLabels[i];
    
    
  });
  p.yTicks.forEach(function (v, i) {
    [[p.left, p.left + 42], [p.right, p.right - 42]].forEach(function (seg) {
      const t = make('line', over);
      setAll(t, { x1: seg[0], x2: seg[1], y1: sy(v), y2: sy(v), stroke: '#000', 'stroke-width': 9.5 });
      
      
    });
    const lab = make('text', over);
    setAll(lab, { x: p.left - 8, y: sy(v) + 26, 'text-anchor': 'end', 'font-size': 70 });
    lab.textContent = p.yLabels[i];
    
    
  });

  const frame = make('rect', over);
  setAll(frame, { x: p.left, y: p.top, width: p.right - p.left, height: p.bottom - p.top, fill: 'none', stroke: '#000', 'stroke-width': 8.5 });
  
  
}

const panelA = { id: 'a', left: 409, right: 1967, top: 181, bottom: 1928,
  xDom: [458, 4974], yDom: [14.33, 164.82],
  xTicks: aXTicks, xLabels: aXLabels, yTicks: aYTicks, yLabels: aYLabels, fit: aFit, levels: aLevels,
  xs: [aX0,aX1,aX2,aX3,aX4,aX5,aX6,aX7,aX8,aX9,aX10,aX11,aX12,aX13],
  ys: [aY0,aY1,aY2,aY3,aY4,aY5,aY6,aY7,aY8,aY9,aY10,aY11,aY12,aY13] };
const panelB = { id: 'b', left: 2171, right: 3729, top: 181, bottom: 1928,
  xDom: [802, 12453], yDom: [8.73, 143.81],
  xTicks: bXTicks, xLabels: bXLabels, yTicks: bYTicks, yLabels: bYLabels, fit: bFit, levels: bLevels,
  xs: [bX0,bX1,bX2,bX3,bX4,bX5,bX6,bX7,bX8,bX9,bX10],
  ys: [bY0,bY1,bY2,bY3,bY4,bY5,bY6,bY7,bY8,bY9,bY10] };
const panelC = { id: 'c', left: 409, right: 1967, top: 2044, bottom: 3791,
  xDom: [-42, 5456], yDom: [-1.08, 116.33],
  xTicks: cXTicks, xLabels: cXLabels, yTicks: cYTicks, yLabels: cYLabels, fit: cFit, levels: cLevels,
  xs: [cX0,cX1,cX2,cX3,cX4,cX5,cX6,cX7,cX8,cX9,cX10,cX11],
  ys: [cY0,cY1,cY2,cY3,cY4,cY5,cY6,cY7,cY8,cY9,cY10,cY11] };
const panelD = { id: 'd', left: 2171, right: 3729, top: 2044, bottom: 3791,
  xDom: [-128, 4495], yDom: [-2.55, 78.57],
  xTicks: dXTicks, xLabels: dXLabels, yTicks: dYTicks, yLabels: dYLabels, fit: dFit, levels: dLevels,
  xs: [dX0,dX1,dX2,dX3,dX4,dX5,dX6,dX7,dX8,dX9,dX10,dX11],
  ys: [dY0,dY1,dY2,dY3,dY4,dY5,dY6,dY7,dY8,dY9,dY10,dY11] };

[panelA, panelB, panelC, panelD].forEach(drawPanel);

const gradient = document.getElementById('turbo-gradient');
turboStops.forEach(function (c, i) {
  const s = make('stop', gradient);
  s.setAttribute('offset', i / (turboStops.length - 1));
  s.setAttribute('stop-color', c);
});

const cbGroup = document.getElementById('colorbar-ticks');
const cbY = function (v) { return 3791 - v * 3611; };
colorbarTicks.forEach(function (v, i) {
  const t = make('line', cbGroup);
  setAll(t, { x1: 3896, x2: 3858, y1: cbY(v), y2: cbY(v), stroke: '#000', 'stroke-width': 9.5 });
  
  
  const lab = make('text', cbGroup);
  setAll(lab, { x: 3908, y: cbY(v) + 27, 'font-size': 70 });
  lab.textContent = colorbarLabels[i];
  
  
});
</script>
</body>
</html>
